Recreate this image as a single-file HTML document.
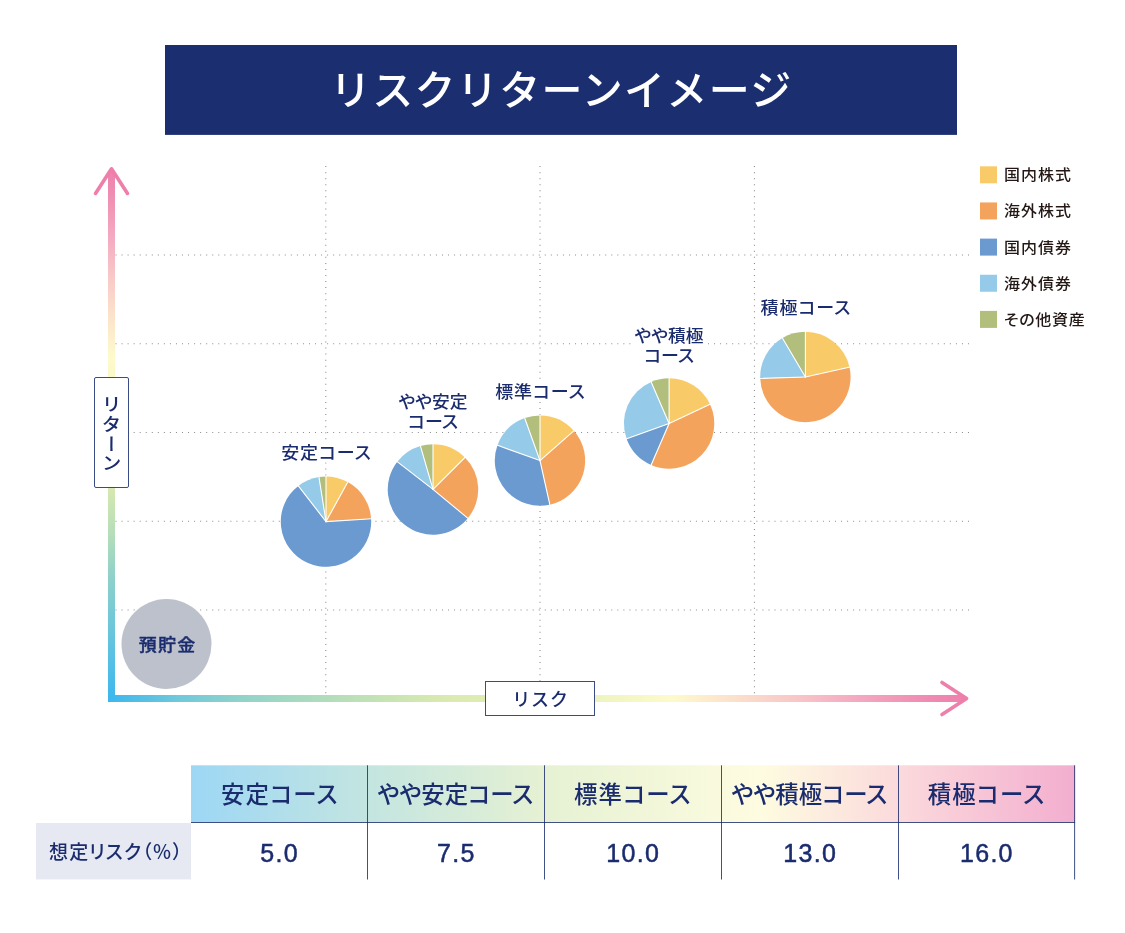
<!DOCTYPE html>
<html lang="ja">
<head>
<meta charset="utf-8">
<title>リスクリターンイメージ</title>
<style>
html,body{margin:0;padding:0;background:#fff;}
body{width:1125px;height:933px;overflow:hidden;}
svg{display:block;}
text{font-family:"Liberation Sans","Noto Sans CJK JP",sans-serif;}
.nv{fill:#1b2c6e;}
.m{font-weight:500;}
.p{font-feature-settings:"palt" 1;}
</style>
</head>
<body>
<svg width="1125" height="933" viewBox="0 0 1125 933">
<defs>
<linearGradient id="gx" gradientUnits="userSpaceOnUse" x1="108" y1="0" x2="968" y2="0"><stop offset="0" stop-color="#3cb7ee"/><stop offset="0.086" stop-color="#72c9da"/><stop offset="0.162" stop-color="#94d4c8"/><stop offset="0.238" stop-color="#acdbbe"/><stop offset="0.315" stop-color="#c5e3b4"/><stop offset="0.392" stop-color="#d9eab0"/><stop offset="0.45" stop-color="#e0edb3"/><stop offset="0.57" stop-color="#eef4c0"/><stop offset="0.656" stop-color="#fefacb"/><stop offset="0.72" stop-color="#fce3cb"/><stop offset="0.797" stop-color="#f8c8c8"/><stop offset="0.873" stop-color="#f4a8c0"/><stop offset="0.95" stop-color="#ef8cb2"/><stop offset="1" stop-color="#ee80ad"/></linearGradient>
<linearGradient id="gy" gradientUnits="userSpaceOnUse" x1="0" y1="702" x2="0" y2="167"><stop offset="0" stop-color="#3cb7ee"/><stop offset="0.069" stop-color="#52bfe6"/><stop offset="0.151" stop-color="#70c8d8"/><stop offset="0.234" stop-color="#8fd1ca"/><stop offset="0.316" stop-color="#b6deb9"/><stop offset="0.398" stop-color="#d5e8b0"/><stop offset="0.5" stop-color="#e8f0b8"/><stop offset="0.6" stop-color="#fbf9c8"/><stop offset="0.645" stop-color="#fefacb"/><stop offset="0.72" stop-color="#fce3cb"/><stop offset="0.797" stop-color="#f8c8c8"/><stop offset="0.873" stop-color="#f4a8c0"/><stop offset="0.95" stop-color="#ef8cb2"/><stop offset="1" stop-color="#ee80ad"/></linearGradient>
<linearGradient id="gt" gradientUnits="userSpaceOnUse" x1="191" y1="0" x2="1075" y2="0"><stop offset="0" stop-color="#9dd7f5"/><stop offset="0.2" stop-color="#c3e5e0"/><stop offset="0.4" stop-color="#e6f1d3"/><stop offset="0.645" stop-color="#fefce0"/><stop offset="0.8" stop-color="#fbdadc"/><stop offset="1" stop-color="#f3aecf"/></linearGradient>
</defs>
<rect x="165" y="45" width="792" height="89.9" fill="#1b2e70"/>
<text x="330" y="104.5" font-size="41" letter-spacing="1.3" fill="#fff" class="m">リスクリターンイメージ</text>
<line x1="115.5" y1="255.0" x2="969.2" y2="255.0" stroke="#8c8c8c" stroke-width="1.1" stroke-dasharray="1 5.046"/>
<line x1="115.5" y1="343.8" x2="969.2" y2="343.8" stroke="#8c8c8c" stroke-width="1.1" stroke-dasharray="1 5.046"/>
<line x1="115.5" y1="432.5" x2="969.2" y2="432.5" stroke="#8c8c8c" stroke-width="1.1" stroke-dasharray="1 5.046"/>
<line x1="115.5" y1="521.3" x2="969.2" y2="521.3" stroke="#8c8c8c" stroke-width="1.1" stroke-dasharray="1 5.046"/>
<line x1="115.5" y1="610.0" x2="969.2" y2="610.0" stroke="#8c8c8c" stroke-width="1.1" stroke-dasharray="1 5.046"/>
<line x1="325.8" y1="166.1" x2="325.8" y2="695" stroke="#8c8c8c" stroke-width="1.1" stroke-dasharray="1 5.049"/>
<line x1="540.05" y1="166.1" x2="540.05" y2="695" stroke="#8c8c8c" stroke-width="1.1" stroke-dasharray="1 5.049"/>
<line x1="754.45" y1="166.1" x2="754.45" y2="695" stroke="#8c8c8c" stroke-width="1.1" stroke-dasharray="1 5.049"/>
<rect x="108" y="171.2" width="7" height="530.8" fill="url(#gy)"/>
<rect x="108" y="695" width="856.3" height="7" fill="url(#gx)"/>
<polyline points="95.5,193.4 111.5,168.8 127.5,193.4" fill="none" stroke="#ee7fab" stroke-width="3.6" stroke-linecap="round" stroke-linejoin="round"/>
<polyline points="942,682.5 966.6,698.5 942,714.5" fill="none" stroke="#ee7fab" stroke-width="3.6" stroke-linecap="round" stroke-linejoin="round"/>
<rect x="94.5" y="377.5" width="34" height="110" rx="1.5" fill="#fff" stroke="#1b2c6e" stroke-width="1" stroke-opacity="0.85"/>
<text transform="translate(110.2 0) scale(1 0.93)" x="0" y="424.3 446.5 467.3 487.7" font-size="19.8" class="nv m" style="writing-mode:vertical-rl;">リターン</text>
<rect x="485.5" y="681.5" width="109" height="34" fill="#fff" stroke="#1b2c6e" stroke-width="1" stroke-opacity="0.85"/>
<text x="540.5" y="705.5" text-anchor="middle" font-size="18" letter-spacing="0.8" class="nv m">リスク</text>
<circle cx="166.5" cy="644" r="45" fill="#bcc1cb"/>
<text transform="translate(167.6 650.7) scale(1 0.95)" text-anchor="middle" font-size="18" letter-spacing="1.2" stroke="#1b2c6e" stroke-width="0.4" class="nv m">預貯金</text>
<g>
<path d="M326.00 521.60 L326.00 476.40 A45.2 45.2 0 0 1 347.78 481.99 Z" fill="#f9cb68"/>
<path d="M326.00 521.60 L347.78 481.99 A45.2 45.2 0 0 1 371.11 518.76 Z" fill="#f4a35d"/>
<path d="M326.00 521.60 L371.11 518.76 A45.2 45.2 0 1 1 298.30 485.88 Z" fill="#6b9ad1"/>
<path d="M326.00 521.60 L298.30 485.88 A45.2 45.2 0 0 1 318.93 476.96 Z" fill="#95cbe8"/>
<path d="M326.00 521.60 L318.93 476.96 A45.2 45.2 0 0 1 326.00 476.40 Z" fill="#b2be7c"/>
<line x1="326.00" y1="521.60" x2="326.00" y2="475.80" stroke="#fff" stroke-width="1.1" stroke-linecap="round"/>
<line x1="326.00" y1="521.60" x2="348.06" y2="481.47" stroke="#fff" stroke-width="1.1" stroke-linecap="round"/>
<line x1="326.00" y1="521.60" x2="371.71" y2="518.72" stroke="#fff" stroke-width="1.1" stroke-linecap="round"/>
<line x1="326.00" y1="521.60" x2="297.93" y2="485.41" stroke="#fff" stroke-width="1.1" stroke-linecap="round"/>
<line x1="326.00" y1="521.60" x2="318.84" y2="476.36" stroke="#fff" stroke-width="1.1" stroke-linecap="round"/>
</g>
<rect x="280.0" y="443.3" width="92" height="19" fill="#fff"/>
<text transform="translate(326.45 458.80) scale(1 0.93)" text-anchor="middle" font-size="18" letter-spacing="0.9" class="nv m p">安定コース</text>
<g>
<path d="M433.00 489.40 L433.00 444.20 A45.2 45.2 0 0 1 464.96 457.44 Z" fill="#f9cb68"/>
<path d="M433.00 489.40 L464.96 457.44 A45.2 45.2 0 0 1 467.83 518.21 Z" fill="#f4a35d"/>
<path d="M433.00 489.40 L467.83 518.21 A45.2 45.2 0 0 1 397.28 461.70 Z" fill="#6b9ad1"/>
<path d="M433.00 489.40 L397.28 461.70 A45.2 45.2 0 0 1 420.39 445.99 Z" fill="#95cbe8"/>
<path d="M433.00 489.40 L420.39 445.99 A45.2 45.2 0 0 1 433.00 444.20 Z" fill="#b2be7c"/>
<line x1="433.00" y1="489.40" x2="433.00" y2="443.60" stroke="#fff" stroke-width="1.1" stroke-linecap="round"/>
<line x1="433.00" y1="489.40" x2="465.39" y2="457.01" stroke="#fff" stroke-width="1.1" stroke-linecap="round"/>
<line x1="433.00" y1="489.40" x2="468.29" y2="518.59" stroke="#fff" stroke-width="1.1" stroke-linecap="round"/>
<line x1="433.00" y1="489.40" x2="396.81" y2="461.33" stroke="#fff" stroke-width="1.1" stroke-linecap="round"/>
<line x1="433.00" y1="489.40" x2="420.22" y2="445.42" stroke="#fff" stroke-width="1.1" stroke-linecap="round"/>
</g>
<rect x="397.0" y="392.3" width="72" height="19" fill="#fff"/>
<rect x="407.0" y="412.8" width="52" height="17" fill="#fff"/>
<text transform="translate(433.00 407.80) scale(1 0.93)" text-anchor="middle" font-size="17.8" class="nv m p">やや安定</text>
<text transform="translate(433.00 427.90) scale(1 0.93)" text-anchor="middle" font-size="18" class="nv m p">コース</text>
<g>
<path d="M540.00 460.60 L540.00 415.40 A45.2 45.2 0 0 1 573.91 430.71 Z" fill="#f9cb68"/>
<path d="M540.00 460.60 L573.91 430.71 A45.2 45.2 0 0 1 549.86 504.71 Z" fill="#f4a35d"/>
<path d="M540.00 460.60 L549.86 504.71 A45.2 45.2 0 0 1 497.47 445.29 Z" fill="#6b9ad1"/>
<path d="M540.00 460.60 L497.47 445.29 A45.2 45.2 0 0 1 524.69 418.07 Z" fill="#95cbe8"/>
<path d="M540.00 460.60 L524.69 418.07 A45.2 45.2 0 0 1 540.00 415.40 Z" fill="#b2be7c"/>
<line x1="540.00" y1="460.60" x2="540.00" y2="414.80" stroke="#fff" stroke-width="1.1" stroke-linecap="round"/>
<line x1="540.00" y1="460.60" x2="574.36" y2="430.31" stroke="#fff" stroke-width="1.1" stroke-linecap="round"/>
<line x1="540.00" y1="460.60" x2="549.99" y2="505.30" stroke="#fff" stroke-width="1.1" stroke-linecap="round"/>
<line x1="540.00" y1="460.60" x2="496.91" y2="445.09" stroke="#fff" stroke-width="1.1" stroke-linecap="round"/>
<line x1="540.00" y1="460.60" x2="524.49" y2="417.51" stroke="#fff" stroke-width="1.1" stroke-linecap="round"/>
</g>
<rect x="494.0" y="382.6" width="92" height="19" fill="#fff"/>
<text transform="translate(540.45 398.10) scale(1 0.93)" text-anchor="middle" font-size="18" letter-spacing="0.9" class="nv m p">標準コース</text>
<g>
<path d="M669.10 423.50 L669.10 378.30 A45.2 45.2 0 0 1 710.00 404.25 Z" fill="#f9cb68"/>
<path d="M669.10 423.50 L710.00 404.25 A45.2 45.2 0 0 1 651.15 464.98 Z" fill="#f4a35d"/>
<path d="M669.10 423.50 L651.15 464.98 A45.2 45.2 0 0 1 626.57 438.81 Z" fill="#6b9ad1"/>
<path d="M669.10 423.50 L626.57 438.81 A45.2 45.2 0 0 1 651.15 382.02 Z" fill="#95cbe8"/>
<path d="M669.10 423.50 L651.15 382.02 A45.2 45.2 0 0 1 669.10 378.30 Z" fill="#b2be7c"/>
<line x1="669.10" y1="423.50" x2="669.10" y2="377.70" stroke="#fff" stroke-width="1.1" stroke-linecap="round"/>
<line x1="669.10" y1="423.50" x2="710.54" y2="404.00" stroke="#fff" stroke-width="1.1" stroke-linecap="round"/>
<line x1="669.10" y1="423.50" x2="650.91" y2="465.53" stroke="#fff" stroke-width="1.1" stroke-linecap="round"/>
<line x1="669.10" y1="423.50" x2="626.01" y2="439.01" stroke="#fff" stroke-width="1.1" stroke-linecap="round"/>
<line x1="669.10" y1="423.50" x2="650.91" y2="381.47" stroke="#fff" stroke-width="1.1" stroke-linecap="round"/>
</g>
<rect x="633.1" y="326.4" width="72" height="19" fill="#fff"/>
<rect x="643.1" y="346.9" width="52" height="17" fill="#fff"/>
<text transform="translate(669.10 341.90) scale(1 0.93)" text-anchor="middle" font-size="17.8" class="nv m p">やや積極</text>
<text transform="translate(669.10 362.00) scale(1 0.93)" text-anchor="middle" font-size="18" class="nv m p">コース</text>
<g>
<path d="M805.40 377.00 L805.40 331.80 A45.2 45.2 0 0 1 849.51 367.14 Z" fill="#f9cb68"/>
<path d="M805.40 377.00 L849.51 367.14 A45.2 45.2 0 1 1 760.22 378.42 Z" fill="#f4a35d"/>
<path d="M805.40 377.00 L760.22 378.42 A45.2 45.2 0 0 1 782.39 338.09 Z" fill="#95cbe8"/>
<path d="M805.40 377.00 L782.39 338.09 A45.2 45.2 0 0 1 805.40 331.80 Z" fill="#b2be7c"/>
<line x1="805.40" y1="377.00" x2="805.40" y2="331.20" stroke="#fff" stroke-width="1.1" stroke-linecap="round"/>
<line x1="805.40" y1="377.00" x2="850.10" y2="367.01" stroke="#fff" stroke-width="1.1" stroke-linecap="round"/>
<line x1="805.40" y1="377.00" x2="759.62" y2="378.44" stroke="#fff" stroke-width="1.1" stroke-linecap="round"/>
<line x1="805.40" y1="377.00" x2="782.09" y2="337.58" stroke="#fff" stroke-width="1.1" stroke-linecap="round"/>
</g>
<rect x="759.4" y="298.2" width="92" height="19" fill="#fff"/>
<text transform="translate(805.85 313.70) scale(1 0.93)" text-anchor="middle" font-size="18" letter-spacing="0.9" class="nv m p">積極コース</text>
<rect x="980" y="166.30" width="17" height="17" fill="#f9cb68"/>
<text transform="translate(1004 180.30) scale(1 0.93)" font-size="16" letter-spacing="1.0" fill="#231815" class="m p">国内株式</text>
<rect x="980" y="202.45" width="17" height="17" fill="#f4a35d"/>
<text transform="translate(1004 216.45) scale(1 0.93)" font-size="16" letter-spacing="1.0" fill="#231815" class="m p">海外株式</text>
<rect x="980" y="238.60" width="17" height="17" fill="#6b9ad1"/>
<text transform="translate(1004 252.60) scale(1 0.93)" font-size="16" letter-spacing="1.0" fill="#231815" class="m p">国内債券</text>
<rect x="980" y="274.75" width="17" height="17" fill="#95cbe8"/>
<text transform="translate(1004 288.75) scale(1 0.93)" font-size="16" letter-spacing="1.0" fill="#231815" class="m p">海外債券</text>
<rect x="980" y="310.90" width="17" height="17" fill="#b2be7c"/>
<text transform="translate(1004 324.90) scale(1 0.93)" font-size="16" letter-spacing="0.75" fill="#231815" class="m p">その他資産</text>
<rect x="191.0" y="765.3" width="884.1" height="57" fill="url(#gt)"/>
<rect x="36" y="823" width="155" height="56.4" fill="#e6e9f2"/>
<rect x="191.0" y="822" width="884.1" height="1" fill="#1b2c6e" opacity="0.83"/>
<rect x="367" y="765.3" width="1" height="114.2" fill="#1b2c6e" opacity="0.83"/>
<rect x="544" y="765.3" width="1" height="114.2" fill="#1b2c6e" opacity="0.83"/>
<rect x="721" y="765.3" width="1" height="114.2" fill="#1b2c6e" opacity="0.83"/>
<rect x="898" y="765.3" width="1" height="114.2" fill="#1b2c6e" opacity="0.83"/>
<rect x="1074.1" y="765.3" width="1" height="114.2" fill="#1b2c6e" opacity="0.83"/>
<text x="279.8" y="803.2" text-anchor="middle" font-size="23.4" letter-spacing="1.1" class="nv m p">安定コース</text>
<text x="279.6" y="861.7" text-anchor="middle" font-size="25" letter-spacing="1.3" stroke="#1b2c6e" stroke-width="0.5" stroke-linejoin="round" class="nv">5.0</text>
<text x="455.3" y="803.2" text-anchor="middle" font-size="23.4" letter-spacing="0" class="nv m p">やや安定コース</text>
<text x="456.3" y="861.7" text-anchor="middle" font-size="25" letter-spacing="1.3" stroke="#1b2c6e" stroke-width="0.5" stroke-linejoin="round" class="nv">7.5</text>
<text x="632.8" y="803.2" text-anchor="middle" font-size="23.4" letter-spacing="1.1" class="nv m p">標準コース</text>
<text x="633.3" y="861.7" text-anchor="middle" font-size="25" letter-spacing="1.3" stroke="#1b2c6e" stroke-width="0.5" stroke-linejoin="round" class="nv">10.0</text>
<text x="809.3" y="803.2" text-anchor="middle" font-size="23.4" letter-spacing="0" class="nv m p">やや積極コース</text>
<text x="810.3" y="861.7" text-anchor="middle" font-size="25" letter-spacing="1.3" stroke="#1b2c6e" stroke-width="0.5" stroke-linejoin="round" class="nv">13.0</text>
<text x="986.5" y="803.2" text-anchor="middle" font-size="23.4" letter-spacing="1.1" class="nv m p">積極コース</text>
<text x="986.9" y="861.7" text-anchor="middle" font-size="25" letter-spacing="1.3" stroke="#1b2c6e" stroke-width="0.5" stroke-linejoin="round" class="nv">16.0</text>
<text x="49.1" y="858.8" font-size="19" letter-spacing="1.05" class="nv m" style="font-feature-settings:'palt' 1;">想定リスク（％）</text>
</svg>
</body>
</html>
